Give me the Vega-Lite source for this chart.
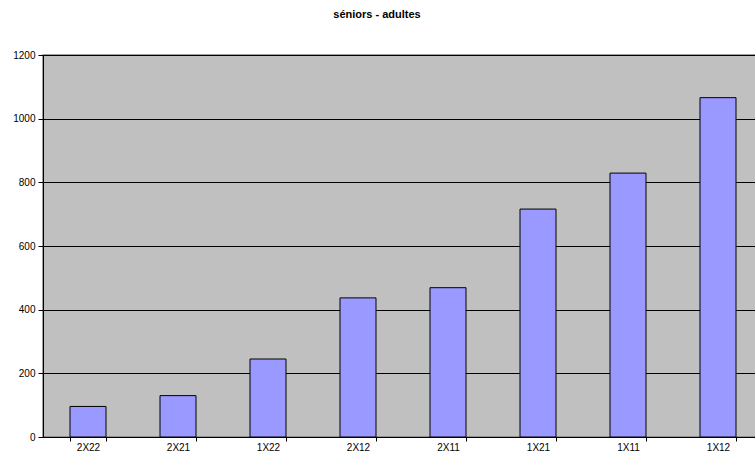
{
  "$schema": "https://vega.github.io/schema/vega-lite/v6.json",
  "autosize": {"type": "none"},
  "padding": {"left": 43, "top": 55, "right": 0, "bottom": 21},
  "width": 720,
  "height": 382,
  "background": "white",
  "title": {
    "text": "séniors - adultes",
    "font": "Liberation Sans",
    "fontSize": 11,
    "fontWeight": "bold",
    "color": "black",
    "anchor": "middle",
    "dx": -26,
    "offset": 30
  },
  "config": {
    "view": {"fill": "#C0C0C0", "stroke": "#808080", "strokeWidth": 1.5},
    "axis": {"labelFont": "Liberation Sans", "labelFontSize": 10, "labelColor": "black", "titleFont": "Liberation Sans"}
  },
  "data": {
    "values": [
      {"cat": "2X22", "value": 96},
      {"cat": "2X21", "value": 130},
      {"cat": "1X22", "value": 245},
      {"cat": "2X12", "value": 437},
      {"cat": "2X11", "value": 469},
      {"cat": "1X21", "value": 716},
      {"cat": "1X11", "value": 829},
      {"cat": "1X12", "value": 1066}
    ]
  },
  "mark": {"type": "bar", "fill": "#9999FF", "stroke": "black", "strokeWidth": 1},
  "encoding": {
    "x": {
      "field": "cat",
      "type": "nominal",
      "sort": null,
      "scale": {"paddingInner": 0.6, "paddingOuter": 0.3},
      "axis": {
        "title": null,
        "labelAngle": 0,
        "domainColor": "black",
        "tickColor": "black",
        "tickBand": "extent",
        "tickSize": 4,
        "labelPadding": 1
      }
    },
    "y": {
      "field": "value",
      "type": "quantitative",
      "scale": {"domain": [0, 1200], "nice": false},
      "axis": {
        "title": null,
        "format": "d",
        "values": [0, 200, 400, 600, 800, 1000, 1200],
        "grid": true,
        "gridColor": "black",
        "gridOpacity": 1,
        "gridWidth": 1,
        "domainColor": "black",
        "tickColor": "black",
        "tickSize": 5,
        "labelPadding": 3
      }
    }
  }
}
